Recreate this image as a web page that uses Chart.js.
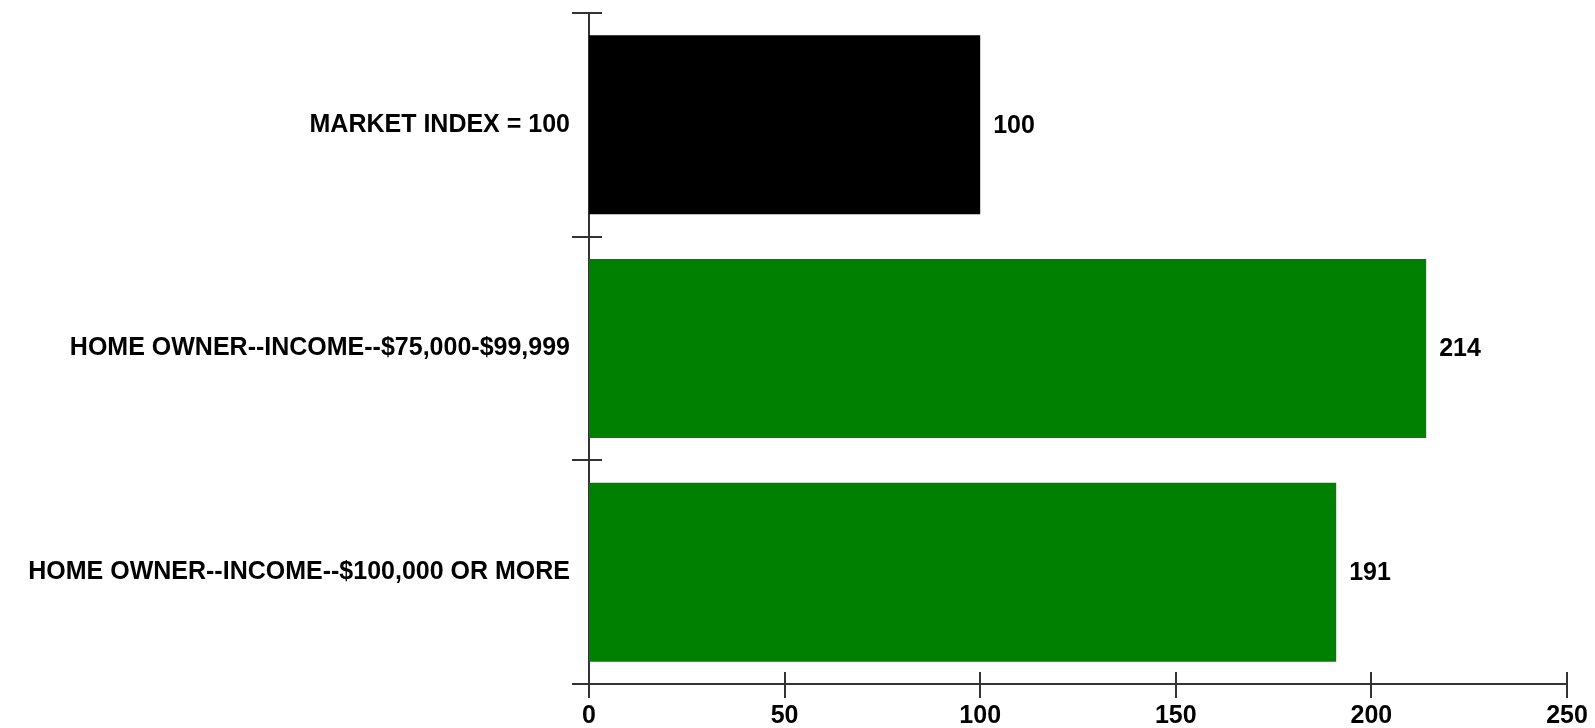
<!DOCTYPE html>
<html>
<head>
<meta charset="utf-8">
<script src="https://cdn.jsdelivr.net/npm/chart.js@4.4.1/dist/chart.umd.min.js"></script>
<style>
  html, body { margin: 0; padding: 0; background: #ffffff; }
  #wrap { width: 1595px; height: 728px; position: relative; }
</style>
</head>
<body>
<div id="wrap"><canvas id="chart"></canvas></div>
<script>
// Index values by segment
const categories = [
  'MARKET INDEX = 100',
  'HOME OWNER--INCOME--$75,000-$99,999',
  'HOME OWNER--INCOME--$100,000 OR MORE'
];
const indexValues = [100, 214, 191];
const barColors = ['#000000', '#008000', '#008000'];
const xTickValues = [0, 50, 100, 150, 200, 250];

const FONT = "'Liberation Sans', Arial, Helvetica, sans-serif";
const AXIS_COLOR = '#333333';

// Short tick marks that straddle each axis line
const axisTicks = {
  id: 'axisTicks',
  afterDraw(chart) {
    const ctx = chart.ctx;
    const xs = chart.scales.x, ys = chart.scales.y;
    ctx.save();
    ctx.strokeStyle = AXIS_COLOR;
    ctx.lineWidth = 2;
    ctx.beginPath();
    // category boundaries on the vertical axis
    const n = categories.length;
    for (let i = 0; i <= n; i++) {
      const y = Math.round(ys.getPixelForValue(i - 0.5));
      ctx.moveTo(xs.left - 17, y);
      ctx.lineTo(xs.left + 13, y);
    }
    // value ticks on the horizontal axis
    xTickValues.forEach(v => {
      const x = Math.round(xs.getPixelForValue(v));
      ctx.moveTo(x, ys.bottom - 12);
      ctx.lineTo(x, ys.bottom + 14);
    });
    ctx.stroke();
    ctx.restore();
  }
};

// Value printed just past the end of each bar
const barValues = {
  id: 'barValues',
  afterDatasetsDraw(chart) {
    const ctx = chart.ctx;
    const meta = chart.getDatasetMeta(0);
    ctx.save();
    ctx.fillStyle = '#000000';
    ctx.font = 'bold 25px ' + FONT;
    ctx.textAlign = 'left';
    ctx.textBaseline = 'middle';
    meta.data.forEach((bar, i) => {
      ctx.fillText(String(indexValues[i]), bar.x + 13, bar.y + 1);
    });
    ctx.restore();
  }
};

new Chart(document.getElementById('chart'), {
  type: 'bar',
  data: {
    labels: categories,
    datasets: [{
      data: indexValues,
      backgroundColor: barColors,
      borderWidth: 0,
      barPercentage: 0.8,
      categoryPercentage: 1.0
    }]
  },
  options: {
    indexAxis: 'y',
    responsive: true,
    maintainAspectRatio: false,
    animation: false,
    layout: { autoPadding: false, padding: { top: 13, right: 28, left: 0, bottom: 0 } },
    plugins: {
      legend: { display: false },
      tooltip: { enabled: false }
    },
    scales: {
      x: {
        type: 'linear',
        min: 0,
        max: 250,
        afterBuildTicks(scale) {
          scale.ticks = xTickValues.map(v => ({ value: v }));
        },
        afterFit(scale) {
          scale.height = 44;
          scale.paddingLeft = 0;
          scale.paddingRight = 0;
        },
        grid: { display: false, drawTicks: false },
        border: { display: true, color: AXIS_COLOR, width: 2 },
        ticks: {
          color: '#000000',
          padding: 17,
          maxRotation: 0,
          font: { family: FONT, size: 25, weight: 'bold' }
        }
      },
      y: {
        type: 'category',
        afterFit(scale) {
          scale.width = 589;
          scale.paddingTop = 0;
          scale.paddingBottom = 0;
        },
        grid: { display: false, drawTicks: false, offset: true },
        border: { display: true, color: AXIS_COLOR, width: 2 },
        ticks: {
          color: '#000000',
          padding: 19,
          font: { family: FONT, size: 25, weight: 'bold' }
        }
      }
    }
  },
  plugins: [axisTicks, barValues]
});
</script>
</body>
</html>
